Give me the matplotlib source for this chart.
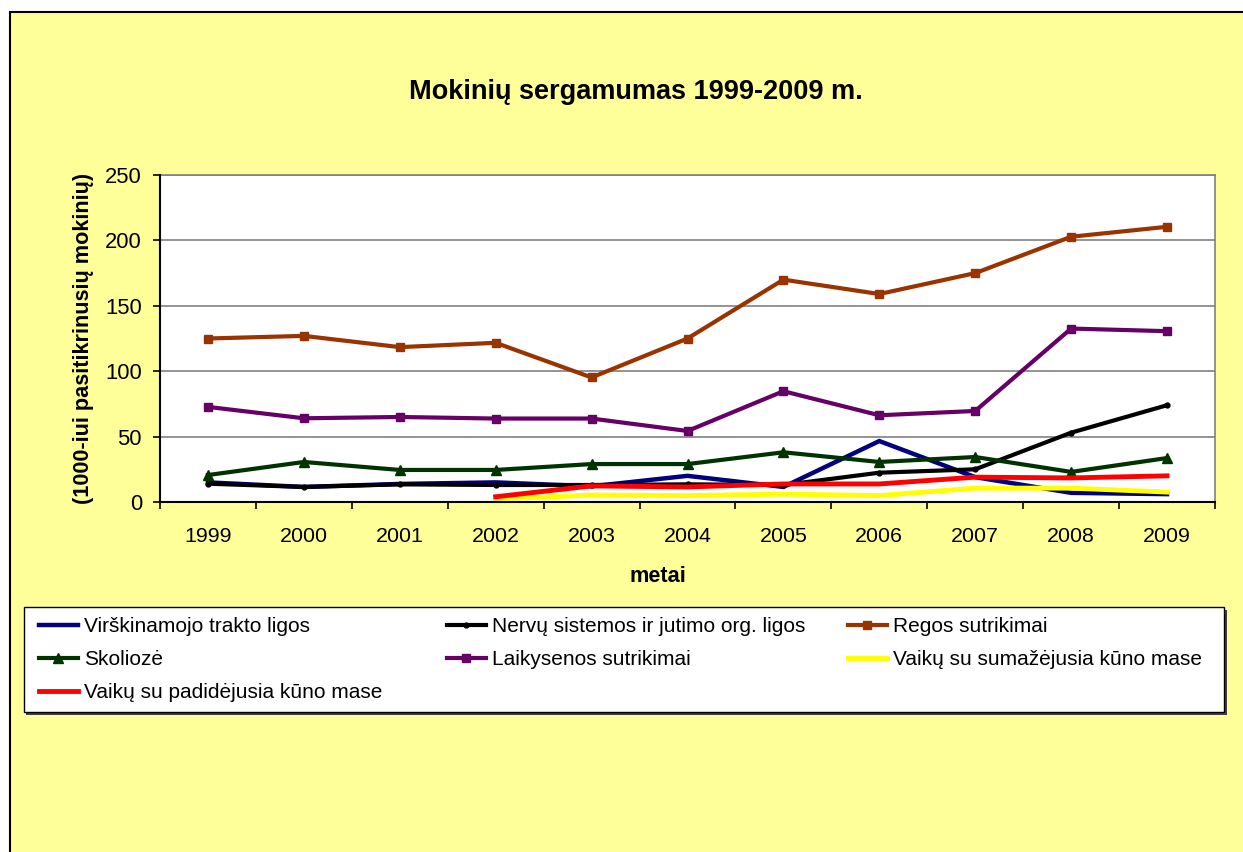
import matplotlib
matplotlib.use("Agg")
import matplotlib.pyplot as plt
from matplotlib.patches import Rectangle
import numpy as np

plt.rcParams['font.family'] = ['Liberation Sans', 'DejaVu Sans']

years = ['1999', '2000', '2001', '2002', '2003', '2004', '2005', '2006', '2007', '2008', '2009']

virskinamojo = [15, 11.5, 13.8, 15, 12, 20, 11.5, 46.6, 19, 7, 6]
nervu = [14, 11.5, 13.5, 13, 13, 13.5, 13, 22.4, 25, 53, 74]
regos = [125, 127, 118.4, 121.7, 95.2, 125, 170, 159, 175, 202.8, 210.4]
skolioze = [20.6, 30.6, 24.5, 24.5, 29, 29, 38, 30.6, 34.4, 23, 33.6]
laikysenos = [72.7, 64, 65, 63.8, 63.8, 54.3, 84.7, 66.3, 69.6, 132.6, 130.6]
sumazejusia = [np.nan, np.nan, np.nan, 2.3, 5.3, 4.9, 6, 4.9, 10.6, 10.6, 7.6]
padidejusia = [np.nan, np.nan, np.nan, 4, 12.3, 11.5, 13.8, 13.8, 19, 18.4, 20]

labels = ['Virškinamojo trakto ligos', 'Nervų sistemos ir jutimo org. ligos', 'Regos sutrikimai',
          'Skoliozė', 'Laikysenos sutrikimai', 'Vaikų su sumažėjusia kūno mase',
          'Vaikų su padidėjusia kūno mase']

W, H = 1243, 852
fig = plt.figure(figsize=(W / 100, H / 100), dpi=100)
fig.patch.set_facecolor('white')

def fx(px):
    return px / W

def fy(py):
    return 1 - py / H

# yellow chart area with border on left and top
fig.patches.append(Rectangle((fx(10), -0.1), 1.2, fy(12) + 0.1, transform=fig.transFigure,
                             facecolor='#FFFF99', edgecolor='black', linewidth=1.5, zorder=0))

ax = fig.add_axes([fx(160), fy(502), fx(1215) - fx(160), fy(175) - fy(502)])
ax.set_zorder(3)
ax.set_facecolor('white')

x = np.arange(len(years))
lw = 3.0
series = [
    (virskinamojo, dict(color='#000080', lw=3.2, marker=None)),
    (nervu, dict(color='black', lw=lw, marker='o', ms=3.5)),
    (regos, dict(color='#993300', lw=lw, marker='s', ms=6.2)),
    (skolioze, dict(color='#003300', lw=lw, marker='^', ms=7.2)),
    (laikysenos, dict(color='#660066', lw=lw, marker='s', ms=6.2)),
    (sumazejusia, dict(color='#FFFF00', lw=3.5, marker=None)),
    (padidejusia, dict(color='#FF0000', lw=3.5, marker=None)),
]
handles = []
for i, (vals, st) in enumerate(series):
    h, = ax.plot(x, vals, color=st['color'], lw=st['lw'], marker=st['marker'],
                 ms=st.get('ms', 0), mfc=st['color'], mec=st['color'],
                 solid_joinstyle='miter', zorder=3 + i, clip_on=False)
    handles.append(h)

ax.set_xlim(-0.5, 10.5)
ax.set_ylim(0, 250)
ax.set_yticks([0, 50, 100, 150, 200, 250])
ax.set_xticks(x)
ax.set_xticklabels(years)
ax.set_xticks(np.arange(-0.5, 10.6, 1), minor=True)
ax.tick_params(axis='x', which='major', length=0, pad=17.8, labelsize=15.4)
ax.tick_params(axis='x', which='minor', length=5, width=1.2, direction='out', color='black')
ax.tick_params(axis='y', length=5, width=1.2, direction='out', pad=8, labelsize=15.8)
ax.grid(axis='y', color='#808080', lw=1.2, zorder=1)
ax.set_axisbelow(True)
for side in ['top', 'right']:
    ax.spines[side].set_color('#808080')
    ax.spines[side].set_linewidth(1.2)
for side in ['left', 'bottom']:
    ax.spines[side].set_color('black')
    ax.spines[side].set_linewidth(1.5)
    ax.spines[side].set_zorder(20)

fig.text(fx(635.5), fy(92), 'Mokinių sergamumas 1999-2009 m.', ha='center', va='center',
         fontsize=19.5, fontweight='bold')
fig.text(fx(83), fy(338), '(1000-iui pasitikrinusių mokinių)', ha='center', va='center',
         rotation=90, fontsize=15.6, fontweight='bold')
fig.text(fx(658), fy(576), 'metai', ha='center', va='center', fontsize=15.6, fontweight='bold')

# legend box with shadow
fig.patches.append(Rectangle((fx(26), fy(715)), fx(1227) - fx(26), fy(610) - fy(715),
                             transform=fig.transFigure, facecolor='#404040', edgecolor='none', zorder=1))
fig.patches.append(Rectangle((fx(24), fy(712)), fx(1224) - fx(24), fy(607) - fy(712),
                             transform=fig.transFigure, facecolor='white', edgecolor='black',
                             linewidth=1.0, zorder=2))

cols = [[0, 3, 6], [1, 4], [2, 5]]
col_x = [39, 447, 848]
for cx, idx in zip(col_x, cols):
    leg = fig.legend([handles[i] for i in idx], [labels[i] for i in idx],
                     loc='upper left', bbox_to_anchor=(fx(cx), fy(617.5)),
                     frameon=False, fontsize=15, handlelength=1.85, handletextpad=0.3,
                     labelspacing=0.66, borderpad=0.0, borderaxespad=0.0)
    leg.set_zorder(5)

fig.savefig('out.png', dpi=100)
